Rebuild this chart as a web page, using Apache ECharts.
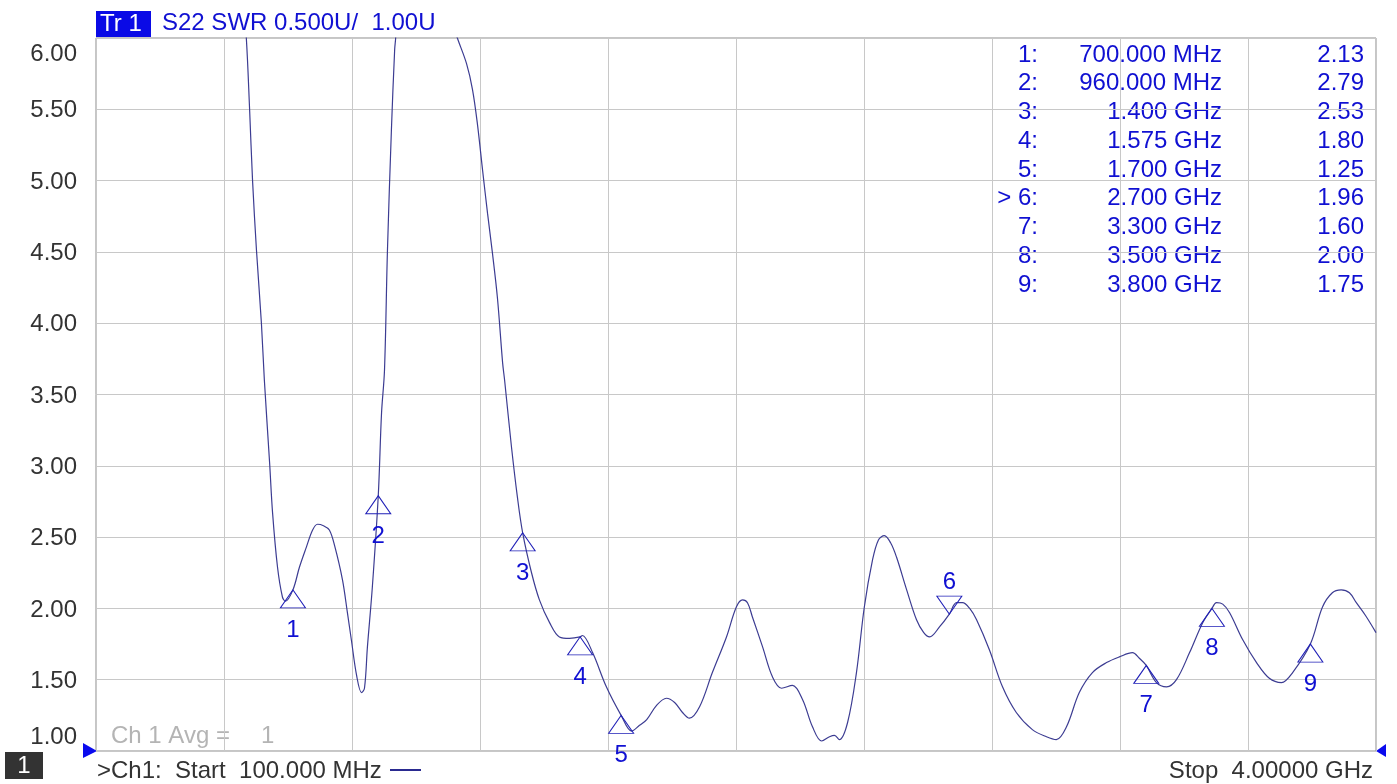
<!DOCTYPE html>
<html>
<head>
<meta charset="utf-8">
<script src="https://cdn.jsdelivr.net/npm/echarts/dist/echarts.min.js"></script>
<style>
html,body{margin:0;padding:0;background:#fff;}
#chart{width:1397px;height:784px;}
</style>
</head>
<body>
<div id="chart"></div>
<script>
// ---- data ----
const freqMHz = [100, 450, 520, 540, 558, 568, 577, 589, 604, 613, 629, 638, 653, 668, 677, 700, 720, 741, 760, 775, 793, 811, 827, 851, 866, 878, 894, 909, 918, 927, 942, 960, 970, 979, 988, 1000, 1010, 1013, 1025, 1060, 1107, 1150, 1180, 1201, 1229, 1247, 1262, 1278, 1293, 1308, 1323, 1339, 1345, 1366, 1384, 1400, 1427, 1451, 1482, 1512, 1543, 1575, 1582, 1613, 1655, 1700, 1732, 1756, 1778, 1808, 1838, 1863, 1887, 1908, 1939, 1978, 2021, 2051, 2070, 2085, 2100, 2131, 2161, 2189, 2222, 2253, 2283, 2311, 2335, 2350, 2365, 2390, 2417, 2441, 2466, 2484, 2502, 2521, 2539, 2570, 2600, 2622, 2640, 2670, 2700, 2722, 2740, 2762, 2783, 2822, 2862, 2904, 2953, 2996, 3026, 3057, 3096, 3136, 3179, 3218, 3258, 3279, 3300, 3331, 3362, 3392, 3432, 3472, 3500, 3514, 3533, 3554, 3594, 3636, 3675, 3712, 3746, 3800, 3837, 3867, 3894, 3919, 3940, 3968, 4000];
const swr = [12.0, 9.5, 7.2, 6.55, 6.0, 5.50, 5.00, 4.51, 4.00, 3.60, 3.02, 2.67, 2.29, 2.08, 2.05, 2.13, 2.29, 2.43, 2.55, 2.59, 2.58, 2.55, 2.44, 2.20, 1.97, 1.78, 1.53, 1.41, 1.44, 1.73, 2.15, 2.79, 3.37, 3.67, 4.51, 5.35, 5.92, 6.0, 6.6, 7.4, 7.3, 6.5, 6.15, 6.0, 5.82, 5.64, 5.40, 5.07, 4.77, 4.49, 4.18, 3.72, 3.60, 3.13, 2.78, 2.53, 2.25, 2.06, 1.90, 1.80, 1.79, 1.80, 1.81, 1.69, 1.45, 1.25, 1.14, 1.18, 1.22, 1.32, 1.37, 1.34, 1.27, 1.23, 1.31, 1.55, 1.80, 2.01, 2.06, 2.04, 1.94, 1.73, 1.52, 1.44, 1.46, 1.36, 1.17, 1.07, 1.10, 1.11, 1.08, 1.20, 1.55, 2.01, 2.34, 2.48, 2.51, 2.46, 2.36, 2.13, 1.92, 1.83, 1.80, 1.87, 1.96, 2.04, 2.04, 2.00, 1.92, 1.71, 1.45, 1.27, 1.15, 1.10, 1.08, 1.17, 1.41, 1.55, 1.62, 1.66, 1.69, 1.65, 1.60, 1.48, 1.45, 1.50, 1.69, 1.90, 2.00, 2.04, 2.03, 1.97, 1.78, 1.62, 1.51, 1.48, 1.55, 1.75, 2.01, 2.11, 2.13, 2.11, 2.04, 1.95, 1.83];

const markerIds = ['1', '2', '3', '4', '5', '6', '7', '8', '9'];
const markerFreqMHz = [700, 960, 1400, 1575, 1700, 2700, 3300, 3500, 3800];
const markerSWR = [2.13, 2.79, 2.53, 1.80, 1.25, 1.96, 1.60, 2.00, 1.75];
const markerRowLabels = ['1:', '2:', '3:', '4:', '5:', '> 6:', '7:', '8:', '9:'];
const markerFreqLabels = ['700.000 MHz', '960.000 MHz', '1.400 GHz', '1.575 GHz', '1.700 GHz', '2.700 GHz', '3.300 GHz', '3.500 GHz', '3.800 GHz'];
const markerValueLabels = ['2.13', '2.79', '2.53', '1.80', '1.25', '1.96', '1.60', '2.00', '1.75'];
const activeMarker = '6';

const yMin = 1, yMax = 6, yStep = 0.5;
const xStart = 100, xStop = 4000, xDivisions = 10;

const titleTag = 'Tr 1';
const titleText = 'S22 SWR 0.500U/  1.00U';
const channelTag = '1';
const startText = '>Ch1:  Start  100.000 MHz';
const stopText = 'Stop  4.00000 GHz';
const avgLabel = 'Ch 1 Avg =';
const avgValue = '1';

// ---- chart ----
const FONT = '"Liberation Sans", Arial, sans-serif';
const FS = 24;
const BLUE = '#1010d2';
const TRACE = '#3c3c92';
const chart = echarts.init(document.getElementById('chart'), null, {renderer: 'canvas'});

const normalMarkers = [], activeMarkers = [];
markerIds.forEach((id, i) => {
  const d = {value: [markerFreqMHz[i], markerSWR[i]], name: id};
  (id === activeMarker ? activeMarkers : normalMarkers).push(d);
});

function txt(text, x, y, fill, align) {
  return {type: 'text', silent: true, style: {text: text, x: x, y: y, fill: fill, font: FS + 'px ' + FONT,
    textAlign: align, textVerticalAlign: 'middle', align: align, verticalAlign: 'middle'}};
}

const graphics = [];
// title
graphics.push({type: 'rect', shape: {x: 96, y: 11, width: 55, height: 26}, style: {fill: '#0a0ae6'}, silent: true});
graphics.push(txt(titleTag, 100, 24, '#ffffff', 'left'));
graphics.push(txt(titleText, 162, 23, BLUE, 'left'));
// marker table
const rowY0 = 55, rowDy = 28.75;
markerRowLabels.forEach((t, i) => {
  const y = rowY0 + i * rowDy;
  graphics.push(txt(t, 1038, y, BLUE, 'right'));
  graphics.push(txt(markerFreqLabels[i], 1222, y, BLUE, 'right'));
  graphics.push(txt(markerValueLabels[i], 1364, y, BLUE, 'right'));
});
// avg
graphics.push(txt(avgLabel, 111, 736, '#b4b4b4', 'left'));
graphics.push(txt(avgValue, 261, 736, '#b4b4b4', 'left'));
// bottom
graphics.push({type: 'rect', shape: {x: 5, y: 752, width: 38, height: 27}, style: {fill: '#333333'}, silent: true});
graphics.push(txt(channelTag, 24, 766, '#ffffff', 'center'));
graphics.push(txt(startText, 97, 771, '#333333', 'left'));
graphics.push({type: 'line', silent: true, shape: {x1: 390, y1: 770, x2: 421, y2: 770}, style: {stroke: '#2a2a90', lineWidth: 2}});
graphics.push(txt(stopText, 1373, 771, '#333333', 'right'));
// reference pointers
graphics.push({type: 'polygon', silent: true, shape: {points: [[83, 743], [97, 751], [83, 758]]}, style: {fill: '#0a0aee'}});
graphics.push({type: 'polygon', silent: true, shape: {points: [[1386, 744], [1376, 751], [1386, 757]]}, style: {fill: '#0a0aee'}});

const option = {
  backgroundColor: '#ffffff',
  animation: false,
  grid: {left: 96, top: 38, right: 21, bottom: 33, show: true, borderColor: '#8c8c8c', borderWidth: 1, backgroundColor: '#ffffff'},
  xAxis: [
    {type: 'value', min: xStart, max: xStop, show: true,
     axisLine: {show: false}, axisTick: {show: false}, axisLabel: {show: false}, splitLine: {show: false}},
    {type: 'value', min: 0, max: xDivisions, interval: 1, position: 'bottom',
     axisLine: {show: false}, axisTick: {show: false}, axisLabel: {show: false},
     splitLine: {show: true, lineStyle: {color: '#c8c8c8', width: 1}}}
  ],
  yAxis: {
    type: 'value', min: yMin, max: yMax, interval: yStep,
    axisLine: {show: false}, axisTick: {show: false},
    splitLine: {show: true, lineStyle: {color: '#c8c8c8', width: 1}},
    axisLabel: {
      color: '#333333', fontSize: FS, fontFamily: FONT, margin: 19,
      formatter: v => {
        const s = v.toFixed(2);
        if (v === yMax) return '{mx|' + s + '}';
        if (v === yMin) return '{mn|' + s + '}';
        return '{n|' + s + '}';
      },
      rich: {
        mx: {fontSize: FS, color: '#333333', fontFamily: FONT, padding: [4, 0, 0, 0]},
        mn: {fontSize: FS, color: '#333333', fontFamily: FONT, padding: [0, 0, 2, 0]},
        n: {fontSize: FS, color: '#333333', fontFamily: FONT, padding: [3, 0, 0, 0]}
      },
      verticalAlignMaxLabel: 'top', verticalAlignMinLabel: 'bottom'
    }
  },
  graphic: graphics,
  series: [
    {
      type: 'line', xAxisIndex: 0, yAxisIndex: 0,
      data: freqMHz.map((f, i) => [f, swr[i]]),
      showSymbol: false, smooth: 0.35, clip: true,
      lineStyle: {color: TRACE, width: 1.2},
      silent: true, z: 3
    },
    {
      type: 'scatter', xAxisIndex: 0, yAxisIndex: 0,
      data: normalMarkers,
      symbol: 'triangle', symbolSize: [25, 18], symbolOffset: [0, 9],
      itemStyle: {color: 'rgba(0,0,0,0)', borderColor: '#2020b8', borderWidth: 1, opacity: 1},
      label: {show: true, position: 'bottom', distance: 10, formatter: p => p.name, color: BLUE, fontSize: FS, fontFamily: FONT},
      silent: true, z: 4
    },
    {
      type: 'scatter', xAxisIndex: 0, yAxisIndex: 0,
      data: activeMarkers,
      symbol: 'path://M0,0L2,0L1,1.44Z', symbolSize: [25, 18], symbolOffset: [0, -9],
      itemStyle: {color: 'rgba(0,0,0,0)', borderColor: '#2020b8', borderWidth: 1, opacity: 1},
      label: {show: true, position: 'top', distance: 1, formatter: p => p.name, color: BLUE, fontSize: FS, fontFamily: FONT},
      silent: true, z: 4
    }
  ]
};
chart.setOption(option);
</script>
</body>
</html>
